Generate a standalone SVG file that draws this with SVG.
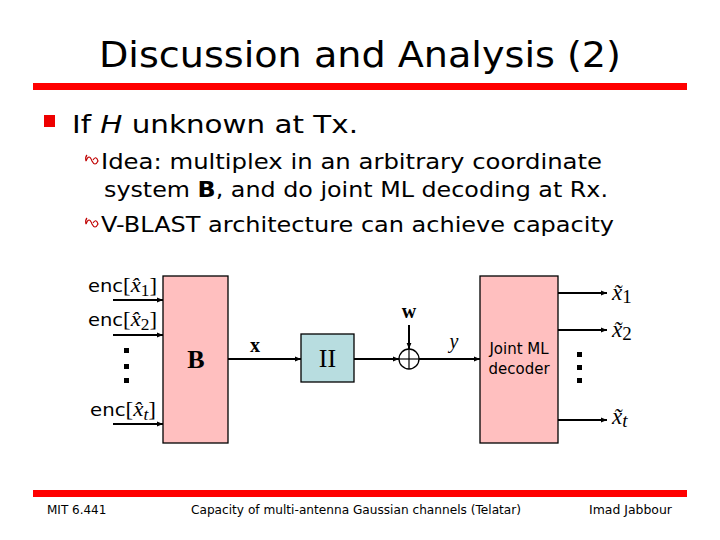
<svg xmlns="http://www.w3.org/2000/svg" width="720" height="540" viewBox="0 0 720 540">
<defs>
<marker id="ah" viewBox="0 0 10 10" refX="10" refY="5" markerWidth="6" markerHeight="6" markerUnits="userSpaceOnUse" orient="auto">
<path d="M0,1 L10,5 L0,9 Z" fill="#000"/>
</marker>
<style>
.sans{font-family:"DejaVu Sans","Liberation Sans",sans-serif;fill:#000}
.serif{font-family:"Liberation Serif","DejaVu Serif",serif;fill:#000}
.line{stroke:#000;stroke-width:2;fill:none}
.pink{fill:#ffbfbf;stroke:#000;stroke-width:1.3}
.blue{fill:#b8dde0;stroke:#000;stroke-width:1.3}
.dot{fill:#000}
.sb{fill:none;stroke:#c00000;stroke-width:1.2}
</style>
</defs>
<rect width="720" height="540" fill="#fff"/>
<g id="title">
<text class="sans" x="360" y="67" font-size="35" text-anchor="middle" textLength="522" lengthAdjust="spacingAndGlyphs">Discussion and Analysis (2)</text>
<rect x="33" y="83" width="654" height="7" fill="#f00"/>
</g>
<g id="bullets">
<rect x="44" y="115" width="11" height="12" fill="#e00"/>
<text class="sans" x="72" y="133" font-size="25" textLength="286" lengthAdjust="spacingAndGlyphs">If <tspan font-style="italic">H</tspan> unknown at Tx.</text>
<path class="sb" d="M86,161 q3,-8 6,0 q3,6 6,0 q-2,-6 -5,-1 M86,161 q-1,-4 1,-6"/>
<text class="sans" x="101" y="169" font-size="21" textLength="501" lengthAdjust="spacingAndGlyphs">Idea: multiplex in an arbitrary coordinate</text>
<text class="sans" x="104" y="197" font-size="21" textLength="504" lengthAdjust="spacingAndGlyphs">system <tspan font-weight="bold">B</tspan>, and do joint ML decoding at Rx.</text>
<path class="sb" d="M86,224 q3,-8 6,0 q3,6 6,0 q-2,-6 -5,-1 M86,224 q-1,-4 1,-6"/>
<text class="sans" x="101" y="232" font-size="21" textLength="513" lengthAdjust="spacingAndGlyphs">V-BLAST architecture can achieve capacity</text>
</g>
<g id="connectors">
<line class="line" x1="113" y1="300" x2="163" y2="300" marker-end="url(#ah)"/>
<line class="line" x1="113" y1="335" x2="163" y2="335" marker-end="url(#ah)"/>
<line class="line" x1="113" y1="424" x2="163" y2="424" marker-end="url(#ah)"/>
<line class="line" x1="228" y1="359" x2="301" y2="359" marker-end="url(#ah)"/>
<line class="line" x1="354" y1="359" x2="399" y2="359" marker-end="url(#ah)"/>
<line class="line" x1="409" y1="325" x2="409" y2="349" marker-end="url(#ah)"/>
<line class="line" x1="419" y1="359" x2="480" y2="359" marker-end="url(#ah)"/>
<line class="line" x1="558" y1="293" x2="607" y2="293" marker-end="url(#ah)"/>
<line class="line" x1="558" y1="330" x2="607" y2="330" marker-end="url(#ah)"/>
<line class="line" x1="558" y1="420" x2="607" y2="420" marker-end="url(#ah)"/>
<text class="serif" x="255" y="352" font-size="20" text-anchor="middle" font-weight="bold">x</text>
<text class="serif" x="409" y="318" font-size="20" text-anchor="middle" font-weight="bold">w</text>
<text class="serif" x="454" y="348" font-size="20" text-anchor="middle" font-style="italic">y</text>
</g>
<g id="inputs">
<text x="88" y="292" font-size="18" textLength="69" lengthAdjust="spacingAndGlyphs"><tspan class="sans">enc</tspan><tspan class="serif" font-size="21">[</tspan><tspan class="serif" font-size="21" font-style="italic">x̂</tspan><tspan class="serif" font-size="16" dy="4">1</tspan><tspan class="serif" font-size="21" dy="-4">]</tspan></text>
<text x="88" y="326" font-size="18" textLength="69" lengthAdjust="spacingAndGlyphs"><tspan class="sans">enc</tspan><tspan class="serif" font-size="21">[</tspan><tspan class="serif" font-size="21" font-style="italic">x̂</tspan><tspan class="serif" font-size="16" dy="4">2</tspan><tspan class="serif" font-size="21" dy="-4">]</tspan></text>
<text x="90" y="416" font-size="18" textLength="66" lengthAdjust="spacingAndGlyphs"><tspan class="sans">enc</tspan><tspan class="serif" font-size="21">[</tspan><tspan class="serif" font-size="21" font-style="italic">x̂</tspan><tspan class="serif" font-style="italic" font-size="16" dy="4">t</tspan><tspan class="serif" font-size="21" dy="-4">]</tspan></text>
<rect class="dot" x="124" y="348" width="5" height="5"/>
<rect class="dot" x="124" y="364" width="5" height="5"/>
<rect class="dot" x="124" y="378" width="5" height="5"/>
</g>
<g id="B">
<rect class="pink" x="163" y="276" width="65" height="167"/>
<text class="serif" x="196" y="368" font-size="26" text-anchor="middle" font-weight="bold">B</text>
</g>
<g id="Pi">
<rect class="blue" x="301" y="334" width="53" height="48"/>
<text class="serif" x="327.5" y="367" font-size="26" text-anchor="middle">II</text>
</g>
<g id="adder">
<circle cx="409" cy="359" r="10" fill="#fff" stroke="#000" stroke-width="1.3"/>
<line x1="399" y1="359" x2="419" y2="359" stroke="#000" stroke-width="1.2"/>
<line x1="409" y1="349" x2="409" y2="369" stroke="#000" stroke-width="1.2"/>
</g>
<g id="decoder">
<rect class="pink" x="480" y="276" width="78" height="167"/>
<text class="sans" x="519" y="354" font-size="15" text-anchor="middle" fill="#333">Joint ML</text>
<text class="sans" x="519" y="374" font-size="15" text-anchor="middle" fill="#333">decoder</text>
</g>
<g id="outputs">
<text class="serif" x="612" y="300" font-size="23"><tspan font-style="italic">x̃</tspan><tspan font-size="19" dy="3">1</tspan></text>
<text class="serif" x="612" y="337" font-size="23"><tspan font-style="italic">x̃</tspan><tspan font-size="19" dy="3">2</tspan></text>
<text class="serif" x="612" y="424" font-size="23"><tspan font-style="italic">x̃</tspan><tspan font-style="italic" font-size="19" dy="3">t</tspan></text>
<rect class="dot" x="577" y="352" width="5" height="5"/>
<rect class="dot" x="577" y="365" width="5" height="5"/>
<rect class="dot" x="577" y="378" width="5" height="5"/>
</g>
<g id="footer">
<rect x="33" y="490" width="654" height="7" fill="#f00"/>
<text class="sans" x="47" y="514" font-size="12">MIT 6.441</text>
<text class="sans" x="191" y="514" font-size="12" textLength="330" lengthAdjust="spacingAndGlyphs">Capacity of multi-antenna Gaussian channels (Telatar)</text>
<text class="sans" x="589" y="514" font-size="12" textLength="83" lengthAdjust="spacingAndGlyphs">Imad Jabbour</text>
</g>
</svg>
